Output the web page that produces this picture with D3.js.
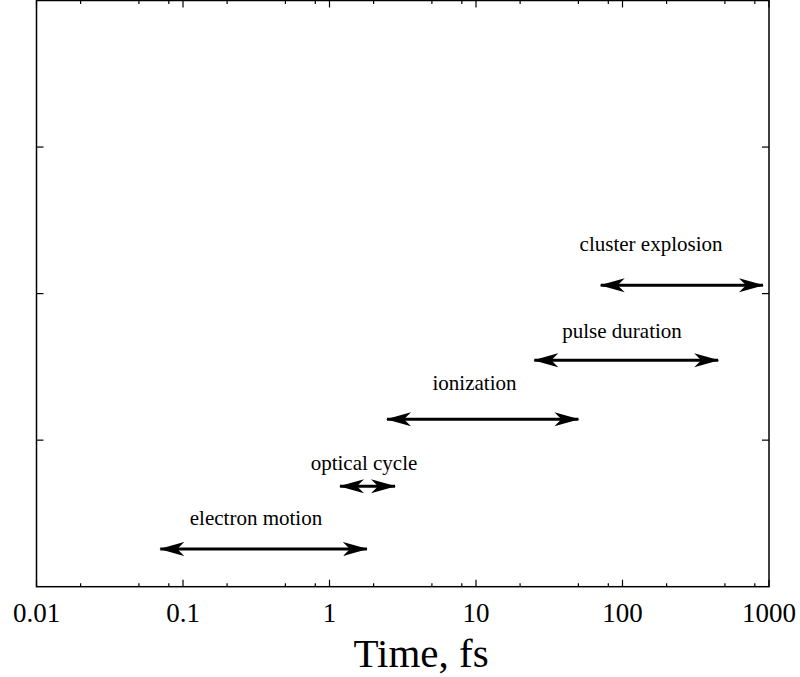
<!DOCTYPE html>
<html>
<head>
<meta charset="utf-8">
<script src="https://cdn.jsdelivr.net/npm/d3@7"></script>
<style>
  body { margin: 0; background: #fff; }
  text { font-family: "Liberation Serif", serif; fill: #000; }
</style>
</head>
<body>
<div id="canvas"></div>
<script>
// time scales (fs), log axis
const names = ["electron motion", "optical cycle", "ionization", "pulse duration", "cluster explosion"];
const startT = [0.07, 1.18, 2.47, 25, 71];
const endT = [1.8, 2.8, 50, 450, 910];
const rowY = [0.257, 0.686, 1.143, 1.545, 2.057];
const labelT = [0.315, 1.72, 9.77, 99.3, 156.6];
const labelY = [0.42, 0.795, 1.341, 1.695, 2.29];
const xTicks = [0.01, 0.1, 1, 10, 100, 1000];
const xTickLabels = ["0.01", "0.1", "1", "10", "100", "1000"];
const xMinor = [0.02, 0.05, 0.08, 0.2, 0.5, 0.8, 2, 5, 8, 20, 50, 80, 200, 500, 800];
const yTicks = [1, 2, 3];

const width = 800, height = 677;
const margin = { top: 0.5, left: 36.5, right: 31, bottom: 90.3 };
const iwidth = width - margin.left - margin.right;
const iheight = height - margin.top - margin.bottom;

const svg = d3.select("#canvas").append("svg")
    .attr("width", width).attr("height", height);

const g = svg.append("g").attr("transform", `translate(${margin.left},${margin.top})`);

const x = d3.scaleLog().domain([0.01, 1000]).range([0, iwidth]);
const y = d3.scaleLinear().domain([0, 4]).range([iheight, 0]);

// arrowhead
const defs = svg.append("defs");
defs.append("marker")
    .attr("id", "head")
    .attr("markerUnits", "userSpaceOnUse")
    .attr("viewBox", "0 -8 26 16")
    .attr("refX", 24).attr("refY", 0)
    .attr("markerWidth", 26).attr("markerHeight", 16)
    .attr("orient", "auto-start-reverse")
    .append("path")
    .attr("d", "M0,-7 L25,0 L0,7 L7,0 Z")
    .attr("fill", "#000");

// axes ticks (inward, all sides)
function drawTicks() {
    const tg = g.append("g").attr("stroke", "#000").attr("stroke-width", 1.2);
    xTicks.forEach(t => {
        tg.append("line").attr("x1", x(t)).attr("x2", x(t)).attr("y1", iheight).attr("y2", iheight - 7);
        tg.append("line").attr("x1", x(t)).attr("x2", x(t)).attr("y1", 0).attr("y2", 7);
    });
    xMinor.forEach(t => {
        tg.append("line").attr("x1", x(t)).attr("x2", x(t)).attr("y1", iheight).attr("y2", iheight - 3.5);
        tg.append("line").attr("x1", x(t)).attr("x2", x(t)).attr("y1", 0).attr("y2", 3.5);
    });
    yTicks.forEach(t => {
        tg.append("line").attr("x1", 0).attr("x2", 7).attr("y1", y(t)).attr("y2", y(t));
        tg.append("line").attr("x1", iwidth).attr("x2", iwidth - 7).attr("y1", y(t)).attr("y2", y(t));
    });
}
drawTicks();

g.append("rect")
    .attr("x", 0).attr("y", 0)
    .attr("width", iwidth).attr("height", iheight)
    .attr("fill", "none").attr("stroke", "#000").attr("stroke-width", 1.5);

g.selectAll(".xlab").data(xTicks).enter().append("text")
    .attr("class", "xlab")
    .attr("x", d => x(d))
    .attr("y", iheight + 35)
    .attr("text-anchor", "middle")
    .style("font-size", "27px")
    .text((d, i) => xTickLabels[i]);

svg.append("text")
    .attr("x", 421).attr("y", 667)
    .attr("text-anchor", "middle")
    .style("font-size", "41px")
    .text("Time, fs");

// arrows
names.forEach((n, i) => {
    g.append("line")
        .attr("x1", x(startT[i])).attr("x2", x(endT[i]))
        .attr("y1", y(rowY[i])).attr("y2", y(rowY[i]))
        .attr("stroke", "#000").attr("stroke-width", 3)
        .attr("marker-start", "url(#head)")
        .attr("marker-end", "url(#head)");
    g.append("text")
        .attr("x", x(labelT[i])).attr("y", y(labelY[i]))
        .attr("text-anchor", "middle")
        .style("font-size", "21px")
        .text(n);
});
</script>
</body>
</html>
